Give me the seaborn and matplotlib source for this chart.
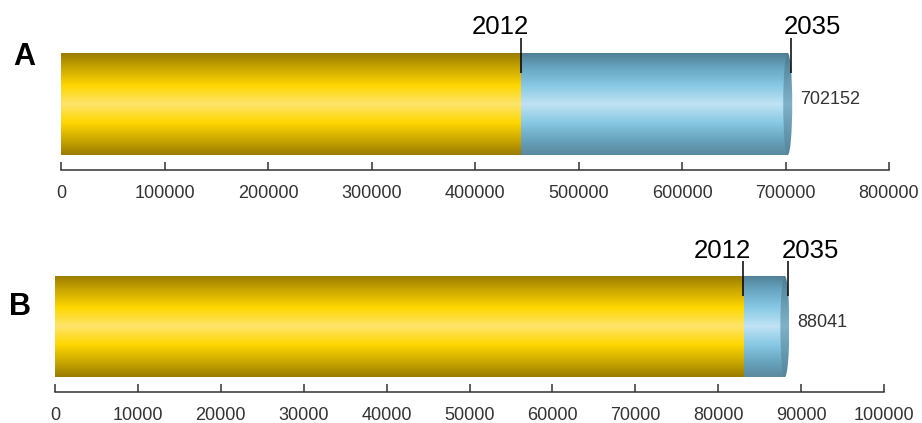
import numpy as np
import pandas as pd
import matplotlib
matplotlib.use('Agg')
import matplotlib.pyplot as plt
import seaborn as sns
from matplotlib.colors import LinearSegmentedColormap
from matplotlib.patches import Ellipse
from matplotlib import transforms

# ---- data ----
panels = ['A', 'B']
value_2012 = [444000, 83000]
value_2035 = [702152, 88041]
axis_max = [800000, 100000]
tick_step = [100000, 10000]
year_labels = ['2012', '2035']

sns.set_style('white')
plt.rcParams['font.family'] = ['Liberation Sans', 'DejaVu Sans']

gold = LinearSegmentedColormap.from_list('gold', [
    (0.0, '#9a7b00'), (0.14, '#c8a500'), (0.32, '#ffd700'), (0.5, '#fee46c'),
    (0.68, '#ffd700'), (0.86, '#c8a500'), (1.0, '#9a7b00')])
blue = LinearSegmentedColormap.from_list('blue', [
    (0.0, '#4f7f95'), (0.14, '#67a4bf'), (0.32, '#88c9e5'), (0.5, '#c0e3f3'),
    (0.68, '#88c9e5'), (0.86, '#67a2bb'), (1.0, '#5a899e')])
capmap = LinearSegmentedColormap.from_list('cap', [
    (0.0, '#4c7a8e'), (0.3, '#6a9fb6'), (0.5, '#7fb2c8'), (0.7, '#6a9fb6'), (1.0, '#55849a')])

W, H = 922, 423
fig = plt.figure(figsize=(W / 100, H / 100), dpi=100)
fig.patch.set_facecolor('white')

# axes boxes in pixels: left, right, top, bottom
boxes = [(61, 889, 38, 170), (55, 884, 261, 392)]
bar_px = [102, 101]
label_pos = [(24, 65), (20, 315)]

grad = np.linspace(0, 1, 256).reshape(-1, 1)

for i, p in enumerate(panels):
    l, r, t, b = boxes[i]
    ax = fig.add_axes([l / W, 1 - b / H, (r - l) / W, (b - t) / H])
    df = pd.DataFrame({'panel': [p], 'v2035': [value_2035[i]], 'v2012': [value_2012[i]]})
    sns.barplot(data=df, x='v2035', y='panel', orient='h', color='#88c9e5',
                saturation=1, width=0.8, ax=ax)
    sns.barplot(data=df, x='v2012', y='panel', orient='h', color='#ffd700',
                saturation=1, width=0.8, ax=ax)
    cmaps = [blue, gold]
    for j, patch in enumerate(list(ax.patches)):
        x0, y0 = patch.get_x(), patch.get_y()
        w, h = patch.get_width(), patch.get_height()
        im = ax.imshow(grad, cmap=cmaps[j], aspect='auto', interpolation='bilinear',
                       extent=(x0, x0 + w, y0 + h, y0), zorder=1.1 + 0.1 * j)
        im.set_clip_path(patch)
        patch.set_facecolor('none')
        patch.set_edgecolor('none')

    # cylinder end cap
    xmax = axis_max[i]
    px_per_unit = (r - l) / xmax
    cap_w = 9 / px_per_unit
    ell = Ellipse((value_2035[i], 0), cap_w, 0.8, facecolor='none', edgecolor='none')
    ax.add_patch(ell)
    imc = ax.imshow(grad, cmap=capmap, aspect='auto', interpolation='bilinear',
                    extent=(value_2035[i] - cap_w / 2, value_2035[i] + cap_w / 2, 0.4, -0.4),
                    zorder=1.4)
    imc.set_clip_path(ell)

    half = 0.4 * (b - t) / bar_px[i]
    ax.set_xlim(0, xmax)
    ax.set_ylim(half, -half)
    ticks = list(range(0, xmax + 1, tick_step[i]))
    ax.set_xticks(ticks)
    ax.set_xticklabels([str(v) for v in ticks])
    ax.set_yticks([])
    ax.set_xlabel('')
    ax.set_ylabel('')
    for s in ['top', 'left', 'right']:
        ax.spines[s].set_visible(False)
    ax.spines['bottom'].set_color('#333333')
    ax.spines['bottom'].set_linewidth(1.1)
    ax.tick_params(axis='x', direction='in', length=5.5, width=1.1, color='#333333',
                   labelsize=13, labelcolor='#333333', pad=10.5, bottom=True)
    ax.patch.set_alpha(0)

    # year markers
    trans = transforms.blended_transform_factory(ax.transData, ax.transAxes)
    line_len = 35 / (b - t)
    vals = [value_2012[i], value_2035[i]]
    line_off = [0, 3]
    text_off = [8, -6.5]
    has = ['right', 'left']
    for k, (v, lab) in enumerate(zip(vals, year_labels)):
        tr = transforms.offset_copy(trans, fig=fig, x=line_off[k] * 0.72, y=0, units='points')
        ax.plot([v, v], [1.0, 1.0 - line_len], color='black', lw=1.1, transform=tr,
                clip_on=False, zorder=3, solid_capstyle='butt')
        ax.annotate(lab, xy=(v, 1.0), xycoords=trans,
                    xytext=((line_off[k] + text_off[k]) * 0.72, 3.5 * 0.72),
                    textcoords='offset points', ha=has[k], va='baseline',
                    fontsize=18.5, color='black', annotation_clip=False)

    # total value label
    ax.annotate(str(value_2035[i]), xy=(value_2035[i], 0), xycoords='data',
                xytext=(12.5 * 0.72, -0.5 * 0.72), textcoords='offset points',
                ha='left', va='baseline', fontsize=13, color='#333333',
                annotation_clip=False)

    # panel letter
    lx, ly = label_pos[i]
    fig.text(lx / W, 1 - ly / H, p, ha='center', va='baseline', fontsize=22,
             fontweight='bold', color='black')

fig.savefig('out.png', dpi=100, facecolor='white')
